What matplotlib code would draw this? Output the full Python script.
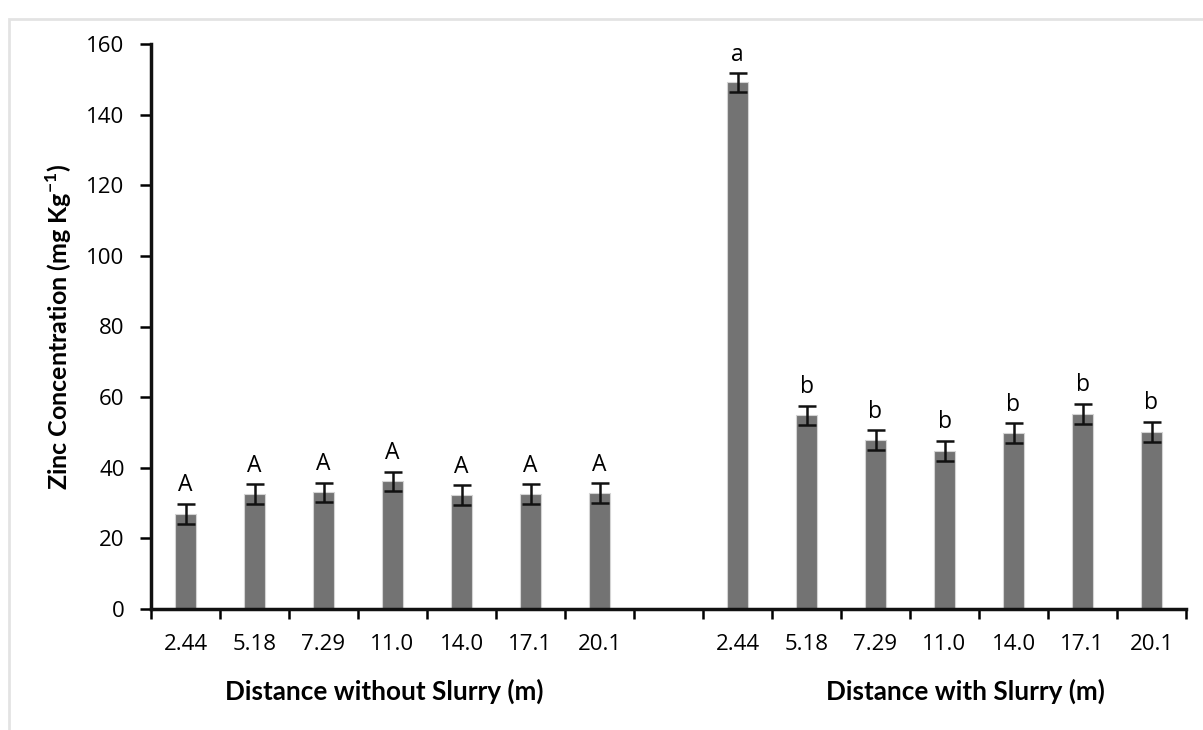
import matplotlib.pyplot as plt
import numpy as np

plt.rcParams['font.family'] = ['Open Sans', 'DejaVu Sans']

distances = ['2.44', '5.18', '7.29', '11.0', '14.0', '17.1', '20.1']

# zinc (mg/kg) along the transect, no slurry vs slurry applied
zn_without = [27.0, 32.5, 33.0, 36.2, 32.3, 32.6, 32.9]
err_without = [2.8, 2.8, 2.8, 2.7, 2.8, 2.8, 2.8]
grp_without = ['A', 'A', 'A', 'A', 'A', 'A', 'A']

zn_with = [149.1, 54.9, 47.9, 44.8, 49.8, 55.2, 50.1]
err_with = [2.7, 2.7, 2.8, 2.9, 2.8, 2.9, 2.9]
grp_with = ['a', 'b', 'b', 'b', 'b', 'b', 'b']

fig = plt.figure(figsize=(12.03, 7.30), dpi=100)
ax = fig.add_axes([151 / 1203, 121 / 730, 1035 / 1203, 565 / 730])

# light frame round the whole chart area
fig.add_artist(plt.Rectangle((9 / 1203, -0.01), 1.02, 1.0 - 12 / 730,
                             transform=fig.transFigure, fill=False,
                             edgecolor='#e3e3e3', linewidth=2, zorder=0))

n = len(distances)
x_left = np.arange(n)
x_right = np.arange(n) + n + 1

for xs, vals, errs, grp in [(x_left, zn_without, err_without, grp_without),
                            (x_right, zn_with, err_with, grp_with)]:
    ax.bar(xs, vals, width=0.31, color='#737373', edgecolor='#d4d4d4', linewidth=0.8, zorder=2)
    ax.errorbar(xs, vals, yerr=errs, fmt='none', ecolor='#111111', elinewidth=1.8,
                capsize=6.5, capthick=1.8, zorder=3)
    for x, v, e, g in zip(xs, vals, errs, grp):
        ax.text(x, v + e + 1.8, g, ha='center', va='bottom', fontsize=16.5)

ax.set_xlim(-0.5, 2 * n + 0.5)
ax.set_ylim(0, 160)
ax.set_yticks(np.arange(0, 161, 20))
ax.set_xticks(np.concatenate([x_left, x_right]))
ax.set_xticklabels(distances + distances)
ax.set_xticks(np.arange(-0.5, 2 * n + 1, 1), minor=True)
ax.tick_params(axis='x', which='major', length=0, pad=18, labelsize=16)
ax.tick_params(axis='x', which='minor', length=7, width=1.8, direction='out')
ax.tick_params(axis='y', length=8, width=1.8, labelsize=16, pad=11)

for side in ['top', 'right']:
    ax.spines[side].set_visible(False)
for side in ['left', 'bottom']:
    ax.spines[side].set_linewidth(2.5)
    ax.spines[side].set_color('#111111')

lab_font = dict(family=['Lato', 'DejaVu Sans'], fontweight='bold')
ax.set_ylabel('Zinc Concentration (mg Kg$^{\\mathregular{-1}}$)', fontsize=18,
              labelpad=9, **lab_font)

ax.text(2.88, -23.3, 'Distance without Slurry (m)', ha='center', va='center',
        fontsize=18.8, **lab_font)
ax.text(11.3, -23.3, 'Distance with Slurry (m)', ha='center', va='center',
        fontsize=18.8, **lab_font)

fig.savefig('out.png', dpi=100, facecolor='white')
